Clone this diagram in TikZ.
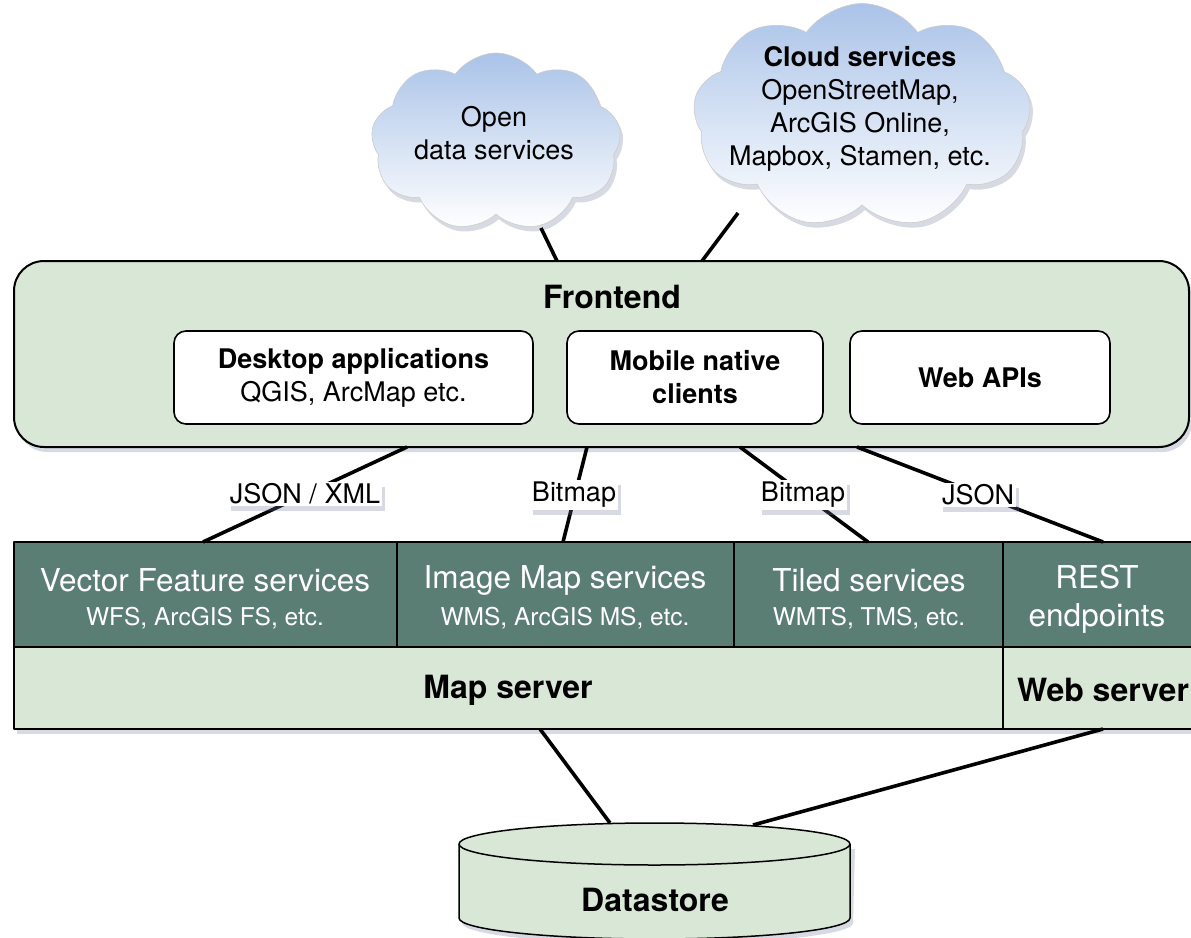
\documentclass[tikz,border=0pt]{standalone}
\usepackage{fontspec}
\setmainfont{TeX Gyre Heros}
\usetikzlibrary{shapes.symbols,shadows}
\definecolor{lg}{RGB}{217,231,214}
\definecolor{svcteal}{RGB}{90,125,116}
\definecolor{cloudblue}{RGB}{170,195,232}
\definecolor{shadowcol}{RGB}{110,120,155}
\begin{document}
\begin{tikzpicture}[x=1pt,y=-1pt,line join=round,
  shad/.style={drop shadow={shadow xshift=3pt,shadow yshift=-5pt,opacity=0.28,fill=shadowcol}},
  cloudshape/.style={cloud,cloud puffs=9,cloud puff arc=110,cloud ignores aspect,
     top color=cloudblue,bottom color=white,draw=black!20,line width=0.6pt,shad,inner sep=0pt},
  frontbox/.style={rectangle,rounded corners=30pt,fill=lg,draw=black,line width=2pt,shad},
  appbox/.style={rectangle,rounded corners=12pt,fill=white,draw=black,line width=1.6pt,
     minimum height=93pt,align=center,font=\fontsize{27}{33}\selectfont},
  svcbox/.style={rectangle,fill=svcteal,draw=black,line width=1.5pt,minimum height=105pt,inner sep=0pt},
  srvbox/.style={rectangle,fill=lg,draw=black,line width=1.5pt,minimum height=82pt,inner sep=0pt},
  svctitle/.style={text=white,font=\fontsize{31.5}{38}\selectfont,align=center},
  svcsub/.style={text=white,font=\fontsize{24.5}{28}\selectfont},
  boldlbl/.style={font=\bfseries\fontsize{32}{36}\selectfont},
  conn/.style={line width=3.6pt},
  lbl/.style={fill=white,inner sep=2pt,font=\fontsize{27}{30}\selectfont,shad},
  cloudtext/.style={align=center,font=\fontsize{27}{33}\selectfont}
]
\useasboundingbox (0,0) rectangle (1191,937);

% clouds
\node[cloudshape,minimum width=250pt,minimum height=178pt] (open) at (496,142) {};
\node[cloudtext] (opent) at (494,133) {Open\\data services};
\node[cloudshape,minimum width=338pt,minimum height=225pt] (cloudsvc) at (862,116) {};
\node[cloudtext] (cloudt) at (860,109) {\textbf{Cloud services}\\OpenStreetMap,\\ArcGIS Online,\\Mapbox, Stamen, etc.};

% frontend
\node[frontbox,minimum width=1175pt,minimum height=186pt] (fe) at (601.5,354) {};
\node[font=\bfseries\fontsize{32}{36}\selectfont] (fet) at (612,297) {Frontend};
\node[appbox,minimum width=359pt] (desk) at (353.5,377.5) {\textbf{Desktop applications}\\QGIS, ArcMap etc.};
\node[appbox,minimum width=256pt] (mob) at (695,377.5) {\textbf{Mobile native}\\\textbf{clients}};
\node[appbox,minimum width=260pt] (web) at (980,377.5) {\textbf{Web APIs}};

% server block shadow
\fill[shadowcol,opacity=0.28] (17,547) rectangle (1200,734);
% services
\node[svcbox,minimum width=383pt] (vfs) at (205.5,594.5) {};
\node[svcbox,minimum width=337pt] (ims) at (565.5,594.5) {};
\node[svcbox,minimum width=269pt] (tiled) at (868.5,594.5) {};
\node[svcbox,minimum width=197pt] (rest) at (1101.5,594.5) {};
\node[srvbox,minimum width=989pt] (mapsrv) at (508.5,688) {};
\node[srvbox,minimum width=197pt] (websrv) at (1101.5,688) {};

\node[svctitle] (vfst) at (205,580) {Vector Feature services};
\node[svcsub] (vfss) at (205,618) {WFS, ArcGIS FS, etc.};
\node[svctitle] (imst) at (565,580) {Image Map services};
\node[svcsub] (imss) at (565,618) {WMS, ArcGIS MS, etc.};
\node[svctitle] (tilt) at (869,580) {Tiled services};
\node[svcsub] (tils) at (869,618) {WMTS, TMS, etc.};
\node[svctitle] (restt) at (1097,599) {REST\\endpoints};
\node[boldlbl] (mapt) at (508,690) {Map server};
\node[boldlbl] (webt) at (1103,690) {Web server};

% datastore
\fill[shadowcol,opacity=0.28] (462,849) -- (462,923) arc[start angle=180,end angle=0,x radius=195.5,y radius=21]
   -- (855,849) -- cycle;
\path[fill=lg,draw=black,line width=1.5pt] (459,844) -- (459,918)
   arc[start angle=180,end angle=0,x radius=195.5,y radius=21] -- (850,844)
   arc[start angle=0,end angle=-180,x radius=195.5,y radius=21] -- cycle;
\draw[line width=1.5pt] (459,844) arc[start angle=180,end angle=0,x radius=195.5,y radius=21];
\node[boldlbl] (ds) at (655,900) {Datastore};

% connector end points
\coordinate (c1a) at (541,228); \coordinate (c1b) at (557,261);
\coordinate (c2a) at (738,213); \coordinate (c2b) at (702,261);
\coordinate (f1) at (407,447); \coordinate (s1) at (203,542);
\coordinate (f2) at (587,447); \coordinate (s2) at (563,542);
\coordinate (f3) at (740,447); \coordinate (s3) at (868,542);
\coordinate (f4) at (857,447); \coordinate (s4) at (1103,542);
\coordinate (m1) at (540,729); \coordinate (d1) at (610,823);
\coordinate (w1) at (1103,729); \coordinate (d2) at (753,825);

\draw[conn] (c1a) -- (c1b);
\draw[conn] (c2a) -- (c2b);
\draw[conn] (f1) -- (s1);
\draw[conn] (f2) -- (s2);
\draw[conn] (f3) -- (s3);
\draw[conn] (f4) -- (s4);
\draw[conn] (m1) -- (d1);
\draw[conn] (w1) -- (d2);

\node[lbl] (l1) at (305,494) {JSON / XML};
\node[lbl] (l2) at (574,495) {Bitmap};
\node[lbl] (l3) at (803,495) {Bitmap};
\node[lbl] (l4) at (978,495) {JSON};
\end{tikzpicture}
\end{document}
